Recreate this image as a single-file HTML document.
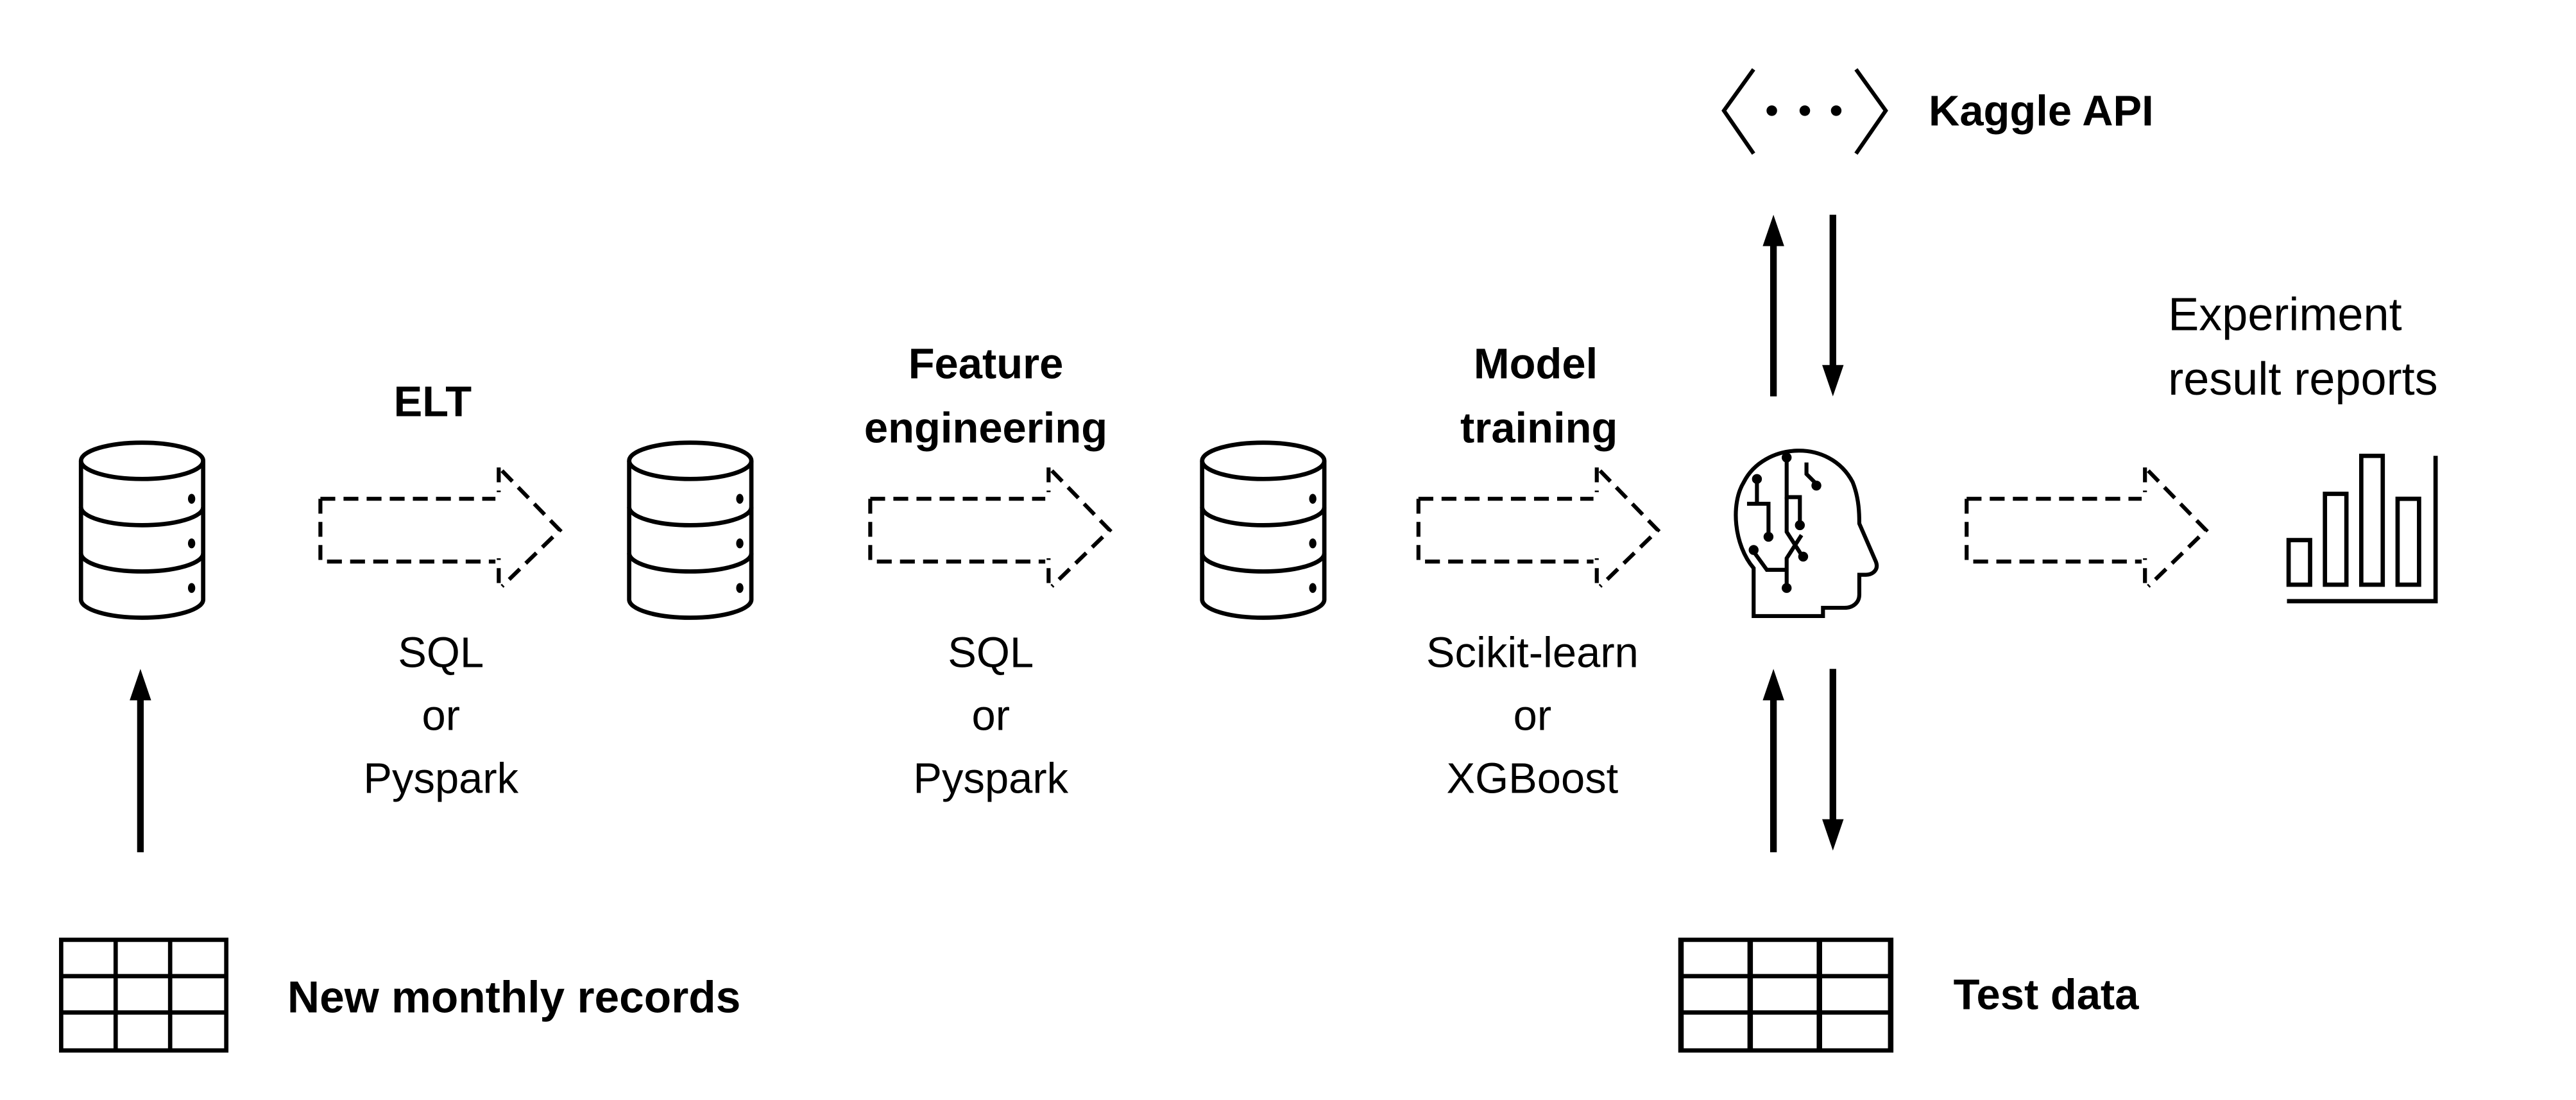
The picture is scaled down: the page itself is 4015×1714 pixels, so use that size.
<!DOCTYPE html>
<html><head><meta charset="utf-8"><style>
html,body{margin:0;padding:0;background:#fff;}
svg{display:block;}
text{font-family:"Liberation Sans",sans-serif;fill:#000;}
.b{font-weight:bold;}
</style></head><body>
<svg width="4015" height="1714" viewBox="0 0 1560 666" xmlns="http://www.w3.org/2000/svg">
<defs>
<g id="cyl" fill="none" stroke="#000" stroke-width="2.6">
  <ellipse cx="39" cy="12" rx="37" ry="11"/>
  <path d="M2 12 V96 A37 11 0 0 0 76 96 V12"/>
  <path d="M2 40 A37 11 0 0 0 76 40"/>
  <path d="M2 68 A37 11 0 0 0 76 68"/>
  <ellipse cx="69" cy="35" rx="2.2" ry="3" fill="#000" stroke="none"/>
  <ellipse cx="69" cy="62" rx="2.2" ry="3" fill="#000" stroke="none"/>
  <ellipse cx="69" cy="89" rx="2.2" ry="3" fill="#000" stroke="none"/>
</g>
<g id="darr" fill="none" stroke="#000" stroke-width="2.4" stroke-dasharray="9,5">
  <path d="M0 19 H106 M0 19 V57 H106"/>
  <path d="M108 0 V15 M108 70 V55"/>
  <path d="M110 2 L145 38 L110 72"/>
</g>
<g id="tbl" fill="none" stroke="#000" stroke-width="2.6">
  <rect x="0" y="0" width="100" height="67"/>
  <path d="M33 0 V67 M66 0 V67 M0 22 H100 M0 44 H100"/>
</g>
</defs>

<use href="#cyl" x="47" y="267"/>
<use href="#cyl" x="379" y="267"/>
<use href="#cyl" x="726" y="267"/>

<use href="#darr" x="194" y="283"/>
<use href="#darr" x="527" y="283"/>
<use href="#darr" x="859" y="283"/>
<use href="#darr" x="1191" y="283"/>

<text class="b" x="262" y="252" font-size="26" text-anchor="middle">ELT</text>
<text class="b" x="597" y="229" font-size="26" text-anchor="middle">Feature</text>
<text class="b" x="597" y="268" font-size="26" text-anchor="middle">engineering</text>
<text class="b" x="930" y="229" font-size="26" text-anchor="middle">Model</text>
<text class="b" x="932" y="268" font-size="26" text-anchor="middle">training</text>

<g font-size="26" text-anchor="middle">
<text x="267" y="404">SQL</text><text x="267" y="442">or</text><text x="267" y="480">Pyspark</text>
<text x="600" y="404">SQL</text><text x="600" y="442">or</text><text x="600" y="480">Pyspark</text>
<text x="928" y="404">Scikit-learn</text><text x="928" y="442">or</text><text x="928" y="480">XGBoost</text>
</g>

<g stroke="#000" stroke-width="4" fill="#000">
  <line x1="85" y1="516" x2="85" y2="420"/>
  <polygon points="85,405 78.5,424 91.5,424" stroke="none"/>
  <line x1="1074" y1="240" x2="1074" y2="145"/>
  <polygon points="1074,130 1067.5,149 1080.5,149" stroke="none"/>
  <line x1="1110" y1="130" x2="1110" y2="225"/>
  <polygon points="1110,240 1103.5,221 1116.5,221" stroke="none"/>
  <line x1="1074" y1="516" x2="1074" y2="420"/>
  <polygon points="1074,405 1067.5,424 1080.5,424" stroke="none"/>
  <line x1="1110" y1="405" x2="1110" y2="500"/>
  <polygon points="1110,515 1103.5,496 1116.5,496" stroke="none"/>
</g>

<use href="#tbl" x="37" y="569"/>
<text class="b" x="174" y="613" font-size="27">New monthly records</text>
<g transform="translate(1018,569) scale(1.27,1)"><use href="#tbl"/></g>
<text class="b" x="1183" y="611" font-size="26">Test data</text>

<g fill="none" stroke="#000" stroke-width="2.4">
  <path d="M1062 42 L1044 67 L1062 93"/>
  <path d="M1124 42 L1142 67 L1124 93"/>
</g>
<circle cx="1073" cy="67" r="3.2" fill="#000"/>
<circle cx="1093" cy="67" r="3.2" fill="#000"/>
<circle cx="1112" cy="67" r="3.2" fill="#000"/>
<text class="b" x="1168" y="76" font-size="26">Kaggle API</text>

<g fill="none" stroke="#000" stroke-width="2.4">
  <path d="M1062 373 V344 C1050 330 1048 305 1056 292 C1068 268 1108 265 1122 292 C1126 302 1126 312 1126 317 L1136 340 C1138 345 1134 348 1130 348 L1126 348 V360 C1126 365 1122 368 1117 368 L1104 368 V373 Z"/>
  <path d="M1082 278 V301 H1090 V316"/>
  <path d="M1082 301 V322 L1091 336"/>
  <path d="M1091 324 L1082 338 V355"/>
  <path d="M1064 291 V305 H1071 V323"/>
  <path d="M1064 305 H1058"/>
  <path d="M1062 334 L1070 345 H1082"/>
  <path d="M1094 280 V287 L1100 293"/>
</g>
<g fill="#000">
  <circle cx="1082" cy="277" r="3"/><circle cx="1090" cy="318" r="3"/>
  <circle cx="1064" cy="290" r="3"/><circle cx="1071" cy="325" r="3"/>
  <circle cx="1062" cy="333" r="3"/><circle cx="1082" cy="356" r="3"/>
  <circle cx="1092" cy="337" r="3"/><circle cx="1100" cy="294" r="3"/>
</g>

<text x="1313" y="200" font-size="28">Experiment</text>
<text x="1313" y="239" font-size="28">result reports</text>
<g fill="none" stroke="#000" stroke-width="2.6">
  <rect x="1386" y="327" width="13" height="27"/>
  <rect x="1408" y="299" width="13" height="55"/>
  <rect x="1430" y="276" width="13" height="78"/>
  <rect x="1452" y="302" width="13" height="52"/>
  <path d="M1385 364 H1475 V276"/>
</g>
</svg>
</body></html>
